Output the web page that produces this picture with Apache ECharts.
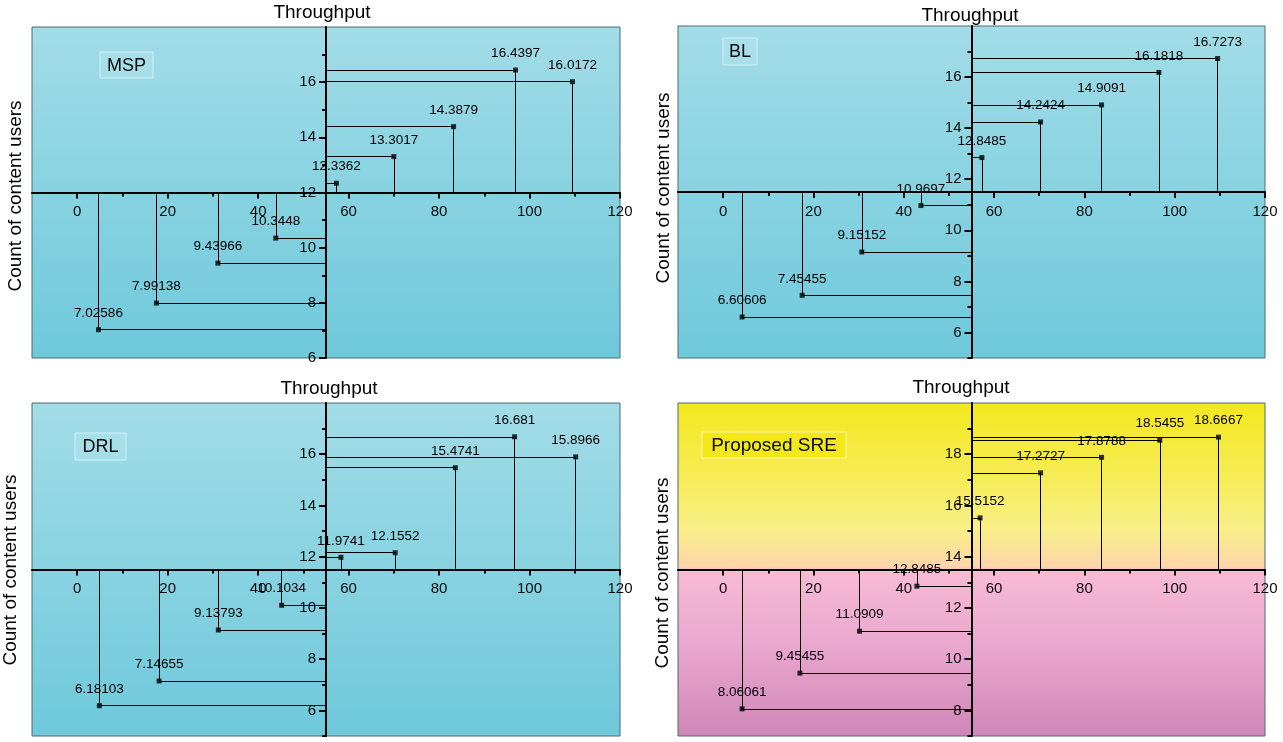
<!DOCTYPE html>
<html>
<head>
<meta charset="utf-8">
<script src="https://cdn.jsdelivr.net/npm/echarts@6/dist/echarts.min.js"></script>
<style>
html,body{margin:0;padding:0;background:#fff;}
#chart{width:1283px;height:742px;}
</style>
</head>
<body>
<div id="chart"></div>
<script>
// ---- data ----
const panelNames = ['MSP', 'BL', 'DRL', 'Proposed SRE'];
const xTickLabels = [0, 20, 40, 60, 80, 100, 120];
const xMinorTicks = [10, 30, 50, 70, 90, 110];

const mspX = [4.7, 17.5, 31.1, 43.9, 57.3, 70.0, 83.2, 96.9, 109.5];
const mspY = [7.02586, 7.99138, 9.43966, 10.3448, 12.3362, 13.3017, 14.3879, 16.4397, 16.0172];

const blX = [4.2, 17.5, 30.7, 43.8, 57.3, 70.3, 83.8, 96.5, 109.5];
const blY = [6.60606, 7.45455, 9.15152, 10.9697, 12.8485, 14.2424, 14.9091, 16.1818, 16.7273];

const drlX = [4.9, 18.1, 31.2, 45.2, 58.3, 70.3, 83.6, 96.7, 110.2];
const drlY = [6.18103, 7.14655, 9.13793, 10.1034, 11.9741, 12.1552, 15.4741, 16.681, 15.8966];

const sreX = [4.2, 17.0, 30.2, 42.9, 56.9, 70.3, 83.8, 96.7, 109.7];
const sreY = [8.06061, 9.45455, 11.0909, 12.8485, 15.5152, 17.2727, 17.8788, 18.5455, 18.6667];

const mspYTicks = [6, 8, 10, 12, 14, 16];
const mspYMinor = [7, 9, 11, 13, 15, 17];
const blYTicks = [6, 8, 10, 12, 14, 16];
const blYMinor = [5, 7, 9, 11, 13, 15, 17];
const drlYTicks = [6, 8, 10, 12, 14, 16];
const drlYMinor = [5, 7, 9, 11, 13, 15, 17];
const sreYTicks = [8, 10, 12, 14, 16, 18];
const sreYMinor = [7, 9, 11, 13, 15, 17, 19];

// axis ranges / crossings
const X_MIN = -10, X_MAX = 120, Y_AXIS_AT = 55;
const yRanges = [
  {min: 6, max: 18, cross: 12},
  {min: 5, max: 18, cross: 11.5},
  {min: 5, max: 18, cross: 11.5},
  {min: 7, max: 20, cross: 13.5}
];

// ---- layout / style ----
const FONT = '"Liberation Sans", Arial, sans-serif';
const tealBg = {type: 'linear', x: 0, y: 0, x2: 0, y2: 1, colorStops: [
  {offset: 0, color: '#a2dce7'}, {offset: 1, color: '#6ec9db'}]};
const sreBg = {type: 'linear', x: 0, y: 0, x2: 0, y2: 1, colorStops: [
  {offset: 0, color: '#f4e81e'}, {offset: 0.22, color: '#f6ec55'},
  {offset: 0.38, color: '#f9ef88'}, {offset: 0.49, color: '#fdd5ab'},
  {offset: 0.51, color: '#f7bad3'}, {offset: 0.72, color: '#eaa8cf'},
  {offset: 1, color: '#cf86b9'}]};

const layouts = [
  {grid: {left: 32, top: 27, width: 588, height: 331}, title: [322, 13], yname: [16, 196],
   box: [100, 52, 53, 26], bg: tealBg, boxFill: 'rgba(200,240,246,0.25)', boxStroke: '#d4f1f6'},
  {grid: {left: 678, top: 26, width: 587, height: 332}, title: [970, 16], yname: [664, 188],
   box: [723, 38, 34, 27], bg: tealBg, boxFill: 'rgba(200,240,246,0.25)', boxStroke: '#d4f1f6'},
  {grid: {left: 32, top: 403, width: 588, height: 333}, title: [329, 389], yname: [11, 570],
   box: [75, 433, 51, 27], bg: tealBg, boxFill: 'rgba(200,240,246,0.25)', boxStroke: '#d4f1f6'},
  {grid: {left: 678, top: 403, width: 587, height: 333}, title: [961, 388], yname: [663, 573],
   box: [702, 432, 144, 26], bg: sreBg, boxFill: '#f3e81a', boxStroke: '#fbf6a8'}
];

const xs = [mspX, blX, drlX, sreX];
const ys = [mspY, blY, drlY, sreY];
const yTicks = [mspYTicks, blYTicks, drlYTicks, sreYTicks];
const yMinors = [mspYMinor, blYMinor, drlYMinor, sreYMinor];

const chart = echarts.init(document.getElementById('chart'), null, {renderer: 'canvas'});

const grids = [], xAxes = [], yAxes = [], series = [], graphics = [];

layouts.forEach((L, i) => {
  const r = yRanges[i];
  grids.push(Object.assign({}, L.grid, {
    show: true, backgroundColor: L.bg, borderColor: '#4d6d70', borderWidth: 1, containLabel: false
  }));
  const xOffset = -(r.cross - r.min) / (r.max - r.min) * L.grid.height;
  const yOffset = -(Y_AXIS_AT - X_MIN) / (X_MAX - X_MIN) * L.grid.width;

  xAxes.push({
    gridIndex: i, type: 'value', min: X_MIN, max: X_MAX, position: 'bottom', offset: xOffset,
    axisLine: {show: true, lineStyle: {color: '#000', width: 2}},
    axisTick: {show: true, customValues: xTickLabels, length: 6, lineStyle: {color: '#000', width: 2}},
    axisLabel: {show: true, customValues: xTickLabels, margin: 12, color: '#0a0a0a', fontSize: 15, fontFamily: FONT},
    splitLine: {show: false}
  });
  xAxes.push({
    gridIndex: i, type: 'value', min: X_MIN, max: X_MAX, position: 'bottom', offset: xOffset,
    axisLine: {show: false},
    axisTick: {show: true, customValues: xMinorTicks, length: 4, lineStyle: {color: '#000', width: 2}},
    axisLabel: {show: false}, splitLine: {show: false}
  });
  yAxes.push({
    gridIndex: i, type: 'value', min: r.min, max: r.max, position: 'left', offset: yOffset,
    axisLine: {show: true, lineStyle: {color: '#000', width: 2}},
    axisTick: {show: true, customValues: yTicks[i], length: 7, lineStyle: {color: '#000', width: 2}},
    axisLabel: {show: true, customValues: yTicks[i], margin: 10, color: '#0a0a0a', fontSize: 15, fontFamily: FONT},
    splitLine: {show: false}
  });
  yAxes.push({
    gridIndex: i, type: 'value', min: r.min, max: r.max, position: 'left', offset: yOffset,
    axisLine: {show: false},
    axisTick: {show: true, customValues: yMinors[i], length: 4, lineStyle: {color: '#000', width: 2}},
    axisLabel: {show: false}, splitLine: {show: false}
  });

  const pts = xs[i].map((x, k) => [x, ys[i][k]]);
  const drops = [];
  pts.forEach(p => {
    drops.push([{coord: [p[0], p[1]]}, {coord: [p[0], r.cross]}]);
    drops.push([{coord: [p[0], p[1]]}, {coord: [Y_AXIS_AT, p[1]]}]);
  });

  series.push({
    type: 'scatter', name: panelNames[i], xAxisIndex: i * 2, yAxisIndex: i * 2,
    data: pts, symbol: 'rect', symbolSize: 5, z: 5,
    itemStyle: {color: '#000'},
    label: {show: true, position: 'top', distance: 7, color: '#000', fontSize: 13.5, fontFamily: FONT,
      textBorderWidth: 0, opacity: 1,
      formatter: p => String(p.value[1])},
    markLine: {
      silent: true, symbol: ['none', 'none'], animation: false, z: 3,
      label: {show: false},
      lineStyle: {color: '#000', width: 1, type: 'solid', opacity: 1},
      emphasis: {disabled: true},
      data: drops
    }
  });

  graphics.push({
    type: 'text', x: L.title[0], y: L.title[1],
    style: {text: 'Throughput', fill: '#000', font: '19px ' + FONT, align: 'center', verticalAlign: 'middle'}
  });
  graphics.push({
    type: 'text', x: L.yname[0], y: L.yname[1], rotation: Math.PI / 2,
    style: {text: 'Count of content users', fill: '#000', font: '19px ' + FONT, align: 'center', verticalAlign: 'middle'}
  });
  const b = L.box;
  graphics.push({
    type: 'rect', shape: {x: b[0], y: b[1], width: b[2], height: b[3]}, z: 10,
    style: {fill: L.boxFill, stroke: L.boxStroke, lineWidth: 1}
  });
  graphics.push({
    type: 'text', x: b[0] + b[2] / 2, y: b[1] + b[3] / 2 + 1, z: 11,
    style: {text: panelNames[i], fill: '#0a0a0a', font: (i === 3 ? '19px ' : '18px ') + FONT, align: 'center', verticalAlign: 'middle'}
  });
});

chart.setOption({
  animation: false,
  backgroundColor: '#fff',
  grid: grids, xAxis: xAxes, yAxis: yAxes, series: series, graphic: graphics
});
</script>
</body>
</html>
